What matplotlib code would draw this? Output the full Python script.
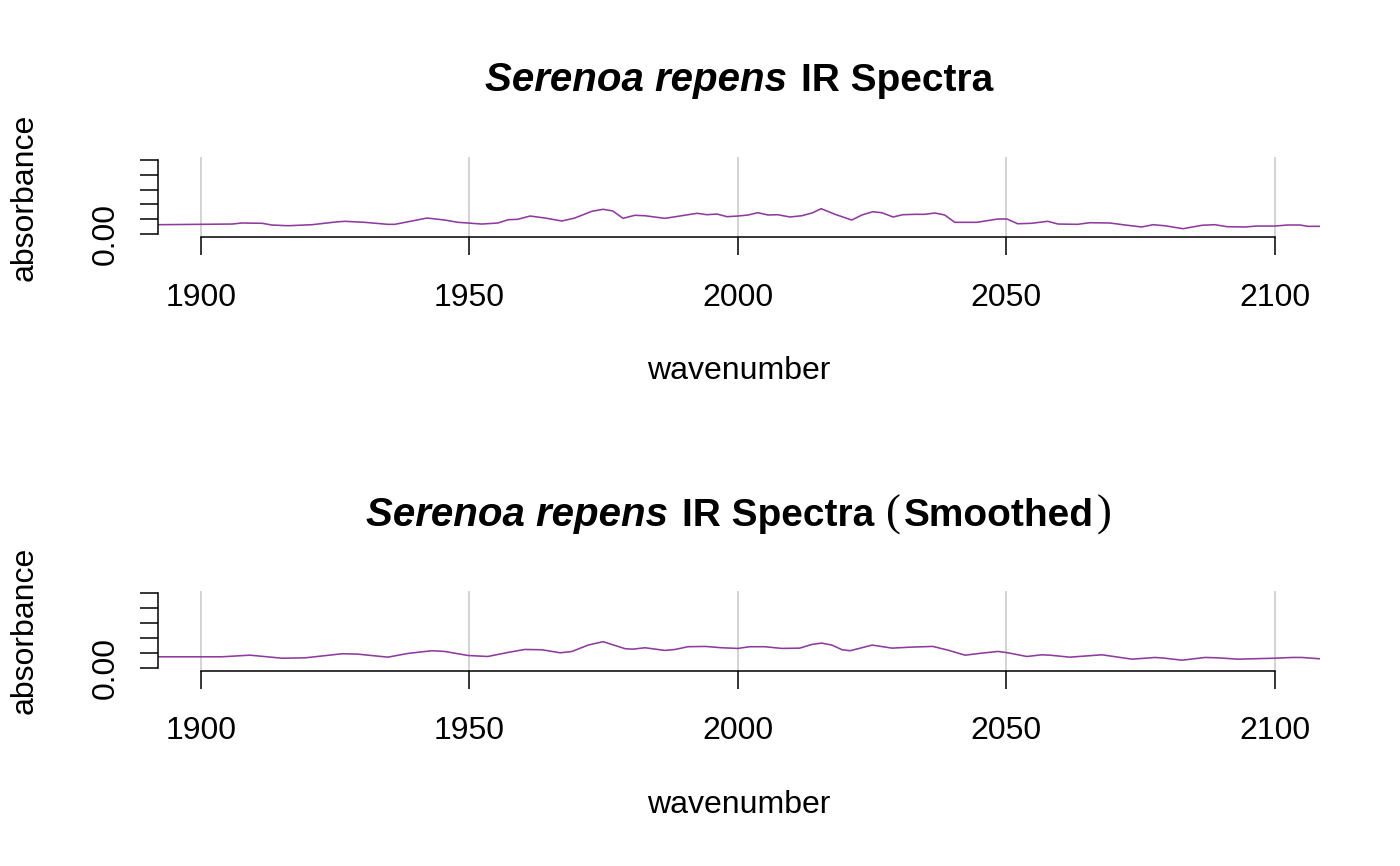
"""
Serenoa repens IR spectra, raw and smoothed, over the 1900-2100 cm-1 window.
"""

import matplotlib.pyplot as plt

plt.rcParams['font.family'] = ['Liberation Sans', 'DejaVu Sans']

# raw spectrum
wavenumber_raw = [1892.0, 1899.8, 1905.8, 1907.6, 1911.4, 1913.2, 1916.2, 1920.7, 1925.0, 1926.8,
                  1930.5, 1934.8, 1936.1, 1939.3, 1942.1, 1945.4, 1947.9, 1949.7, 1952.3, 1955.3,
                  1957.2, 1959.0, 1961.3, 1964.1, 1967.2, 1969.6, 1972.8, 1974.9, 1976.7, 1978.6,
                  1980.8, 1982.7, 1986.4, 1988.8, 1992.4, 1994.2, 1996.1, 1998.0, 2000.0, 2001.9,
                  2003.7, 2005.6, 2007.4, 2009.7, 2011.9, 2013.8, 2015.5, 2018.1, 2021.2, 2023.1,
                  2025.1, 2026.8, 2028.9, 2030.7, 2033.0, 2034.8, 2036.7, 2038.5, 2040.4, 2044.5,
                  2048.4, 2050.1, 2052.1, 2054.7, 2057.7, 2059.6, 2063.3, 2065.5, 2069.3, 2072.1,
                  2075.2, 2077.3, 2079.5, 2082.9, 2086.4, 2088.8, 2091.1, 2094.4, 2096.6, 2100.0,
                  2102.4, 2104.7, 2106.1, 2108.4]
absorbance_raw = [0.0126, 0.0131, 0.0135, 0.0149, 0.0145, 0.0122, 0.0112, 0.0126, 0.0162, 0.0172,
                  0.0158, 0.0131, 0.0131, 0.0176, 0.0216, 0.0189, 0.0158, 0.0149, 0.0135, 0.0149,
                  0.0193, 0.0199, 0.0243, 0.0216, 0.0176, 0.0216, 0.0307, 0.0334, 0.0311, 0.0212,
                  0.0253, 0.0247, 0.0212, 0.0239, 0.0280, 0.0261, 0.0270, 0.0234, 0.0243, 0.0257,
                  0.0288, 0.0257, 0.0261, 0.0230, 0.0247, 0.0284, 0.0342, 0.0266, 0.0189, 0.0257,
                  0.0301, 0.0288, 0.0230, 0.0261, 0.0266, 0.0266, 0.0284, 0.0257, 0.0158, 0.0158,
                  0.0203, 0.0203, 0.0139, 0.0145, 0.0172, 0.0135, 0.0131, 0.0153, 0.0149, 0.0122,
                  0.0095, 0.0126, 0.0112, 0.0072, 0.0118, 0.0126, 0.0099, 0.0095, 0.0108, 0.0108,
                  0.0122, 0.0122, 0.0104, 0.0104]

# smoothed spectrum
wavenumber_smooth = [1892.0, 1899.8, 1903.9, 1909.1, 1915.1, 1919.4, 1926.3, 1929.2, 1934.8, 1938.5,
                     1943.0, 1945.4, 1949.7, 1953.4, 1957.2, 1960.3, 1963.5, 1966.9, 1969.1, 1972.1,
                     1974.9, 1979.0, 1980.4, 1982.7, 1986.4, 1988.3, 1990.7, 1993.9, 1997.0, 2000.0,
                     2002.2, 2005.0, 2008.2, 2011.5, 2013.8, 2015.6, 2017.5, 2019.4, 2020.9, 2025.0,
                     2028.7, 2032.4, 2036.3, 2039.1, 2042.3, 2045.4, 2048.4, 2050.3, 2053.8, 2056.6,
                     2058.1, 2061.8, 2067.8, 2073.4, 2077.7, 2079.5, 2082.7, 2087.0, 2089.4, 2093.1,
                     2100.0, 2103.2, 2105.0, 2108.4]
absorbance_smooth = [0.0145, 0.0145, 0.0145, 0.0167, 0.0126, 0.0131, 0.0186, 0.0181, 0.0140, 0.0190,
                     0.0227, 0.0217, 0.0163, 0.0149, 0.0204, 0.0244, 0.0240, 0.0199, 0.0217, 0.0303,
                     0.0349, 0.0254, 0.0248, 0.0267, 0.0231, 0.0244, 0.0281, 0.0285, 0.0267, 0.0258,
                     0.0281, 0.0281, 0.0258, 0.0262, 0.0312, 0.0330, 0.0303, 0.0240, 0.0227, 0.0303,
                     0.0262, 0.0276, 0.0285, 0.0235, 0.0167, 0.0194, 0.0217, 0.0199, 0.0149, 0.0172,
                     0.0167, 0.0140, 0.0172, 0.0113, 0.0136, 0.0126, 0.0099, 0.0136, 0.0131, 0.0113,
                     0.0126, 0.0136, 0.0136, 0.0118]

x_ticks = [1900, 1950, 2000, 2050, 2100]
y_ticks = [0.00, 0.02, 0.04, 0.06, 0.08, 0.10]
y_tick_labels = ['0.00', '', '', '', '', '']

LINE_COLOR = '#8E3B9E'
GRID_COLOR = '#D3D3D3'
W, H = 1400, 866

fig = plt.figure(figsize=(W / 100, H / 100), dpi=100)
fig.patch.set_facecolor('white')


def add_panel(top, bottom, x, y):
    left, right = 158, 1320
    ax = fig.add_axes([left / W, 1 - bottom / H, (right - left) / W, (bottom - top) / H])
    for v in x_ticks:
        ax.axvline(v, color=GRID_COLOR, lw=1.4, zorder=0)
    ax.plot(x, y, color=LINE_COLOR, lw=1.15)
    ax.set_xlim(x[0], x[-1])
    span = y_ticks[-1] - y_ticks[0]
    ax.set_ylim(y_ticks[0] - 0.04 * span, y_ticks[-1] + 0.04 * span)

    for side in ['top', 'right']:
        ax.spines[side].set_visible(False)
    ax.spines['left'].set_bounds(y_ticks[0], y_ticks[-1])
    ax.spines['bottom'].set_bounds(x_ticks[0], x_ticks[-1])
    for side in ['left', 'bottom']:
        ax.spines[side].set_linewidth(1.1)

    ax.set_xticks(x_ticks)
    ax.set_yticks(y_ticks)
    ax.set_yticklabels(y_tick_labels, rotation=90, va='center')
    ax.tick_params(axis='both', length=13, width=1.1, labelsize=23)
    ax.tick_params(axis='x', pad=20)
    ax.tick_params(axis='y', pad=14)

    ax.set_xlabel('wavenumber', fontsize=23)
    ax.xaxis.set_label_coords(0.5, -(356 - 237) / 80)
    ax.set_ylabel('absorbance', fontsize=23)
    ax.yaxis.set_label_coords((40 - 158) / (right - left), 0.5)
    return ax


def rich_title(baseline_px, parts, center_px=739):
    renderer = fig.canvas.get_renderer()
    texts, gaps = [], []
    for s, kw, gap in parts:
        t = fig.text(0, 1 - baseline_px / H, s, ha='left', va='baseline', **kw)
        texts.append(t)
        gaps.append(gap)
    widths = [t.get_window_extent(renderer).width for t in texts]
    total = sum(widths) + sum(gaps[:-1])
    x0 = center_px - total / 2
    for t, w, g in zip(texts, widths, gaps):
        t.set_x(x0 / W)
        x0 += w + g


add_panel(157, 237, wavenumber_raw, absorbance_raw)
add_panel(590.5, 670.5, wavenumber_smooth, absorbance_smooth)

bold_it = dict(fontsize=29, fontweight='bold', fontstyle='italic')
bold = dict(fontsize=28, fontweight='bold')
paren = dict(fontsize=32, family='Liberation Serif')

rich_title(91, [('Serenoa repens', bold_it, 14), ('IR Spectra', bold, 0)])
rich_title(526, [('Serenoa repens', bold_it, 14), ('IR Spectra', bold, 12),
                 ('(', paren, 3), ('Smoothed', bold, 3), (')', paren, 0)])

fig.savefig('out.png', dpi=100, facecolor='white')
